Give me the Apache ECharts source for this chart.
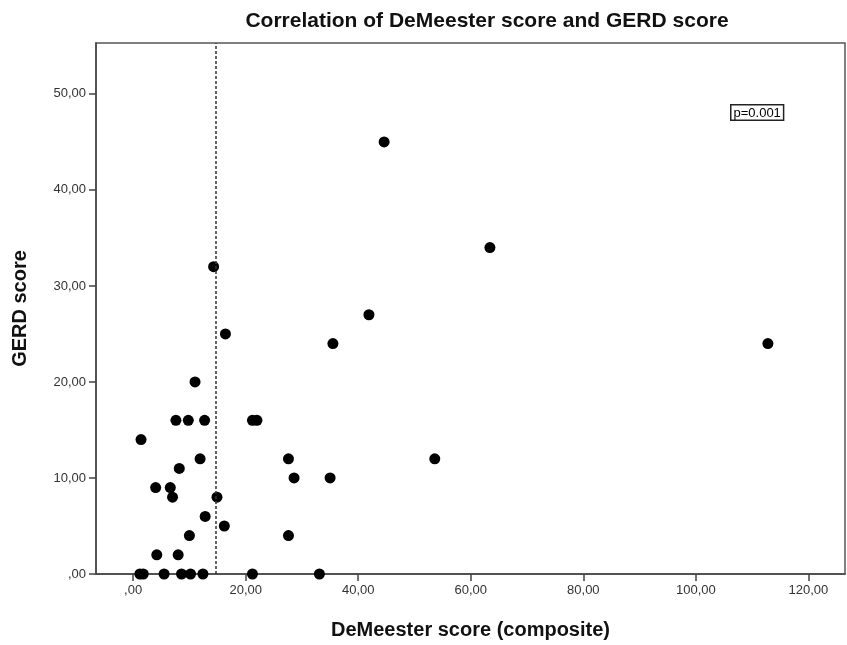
<!DOCTYPE html>
<html>
<head>
<meta charset="utf-8">
<script src="https://cdn.jsdelivr.net/npm/echarts@6/dist/echarts.min.js"></script>
<style>html,body{margin:0;padding:0;background:#fff}#c{width:847px;height:645px}</style>
</head>
<body>
<div id="c"></div>
<script>
// DeMeester score (composite) values
const demeester = [1.2, 1.8, 5.5, 8.6, 10.2, 12.4, 21.2, 33.1,
  4.2, 8.0,
  10.0, 27.6,
  16.2,
  12.8,
  7.0, 14.9,
  4.0, 6.6,
  28.6, 35.0,
  8.2,
  11.9, 27.6, 53.6,
  1.4,
  7.6, 9.8, 12.7, 21.2, 22.0,
  11.0,
  35.5, 112.8,
  16.4,
  41.9,
  14.3,
  63.4,
  44.6];
// GERD score values
const gerd = [0, 0, 0, 0, 0, 0, 0, 0,
  2, 2,
  4, 4,
  5,
  6,
  8, 8,
  9, 9,
  10, 10,
  11,
  12, 12, 12,
  14,
  16, 16, 16, 16, 16,
  20,
  24, 24,
  25,
  27,
  32,
  34,
  45];
const xTicks = [0, 20, 40, 60, 80, 100, 120];
const yTicks = [0, 10, 20, 30, 40, 50];
const cutoff = 14.72;
const pText = 'p=0.001';

const fmt = v => v === 0 ? ',00' : v.toFixed(2).replace('.', ',');
const font = '"Liberation Sans", Arial, sans-serif';

const chart = echarts.init(document.getElementById('c'), null, {renderer: 'canvas'});
chart.setOption({
  animation: false,
  backgroundColor: '#fff',
  title: {
    text: 'Correlation of DeMeester score and GERD score',
    left: 482, top: 6, textAlign: 'center',
    textStyle: {fontFamily: font, fontSize: 21, fontWeight: 'bold', color: '#111'}
  },
  grid: {left: 96, right: 2, top: 43, bottom: 59, show: true, borderColor: '#555', borderWidth: 1.5, containLabel: false},
  xAxis: {
    type: 'value', min: -6.6, max: 126.5,
    name: 'DeMeester score (composite)', nameLocation: 'middle', nameGap: 46,
    nameTextStyle: {fontFamily: font, fontSize: 20, fontWeight: 'bold', color: '#111'},
    axisLine: {show: true, onZero: false, lineStyle: {color: '#444', width: 1.5}},
    axisTick: {show: true, customValues: xTicks, length: 7, lineStyle: {color: '#444', width: 1.5}},
    axisLabel: {customValues: xTicks, formatter: fmt, fontFamily: font, fontSize: 13, color: '#333', margin: 10},
    splitLine: {show: false}
  },
  yAxis: {
    type: 'value', min: 0, max: 55.3,
    name: 'GERD score', nameLocation: 'middle', nameGap: 66, nameRotate: 90,
    nameTextStyle: {fontFamily: font, fontSize: 20, fontWeight: 'bold', color: '#111'},
    axisLine: {show: true, onZero: false, lineStyle: {color: '#444', width: 1.5}},
    axisTick: {show: true, customValues: yTicks, length: 7, lineStyle: {color: '#444', width: 1.5}},
    axisLabel: {customValues: yTicks, formatter: fmt, fontFamily: font, fontSize: 13, color: '#333', margin: 10},
    splitLine: {show: false}
  },
  series: [{
    type: 'scatter',
    data: demeester.map((x, i) => [x, gerd[i]]),
    symbol: 'circle', symbolSize: 11,
    itemStyle: {color: '#000', opacity: 1},
    emphasis: {disabled: true},
    markLine: {
      silent: true, symbol: ['none', 'none'], label: {show: false},
      lineStyle: {color: '#333', type: [3, 2], width: 1.5, opacity: 1},
      data: [{xAxis: cutoff}]
    }
  }],
  graphic: [{
    type: 'text', left: 730, top: 104,
    style: {text: pText, fontFamily: font, fontSize: 13, fill: '#000',
      borderColor: '#222', borderWidth: 1.5, padding: [1, 2, 0, 2], backgroundColor: '#fff'}
  }]
});
</script>
</body>
</html>
